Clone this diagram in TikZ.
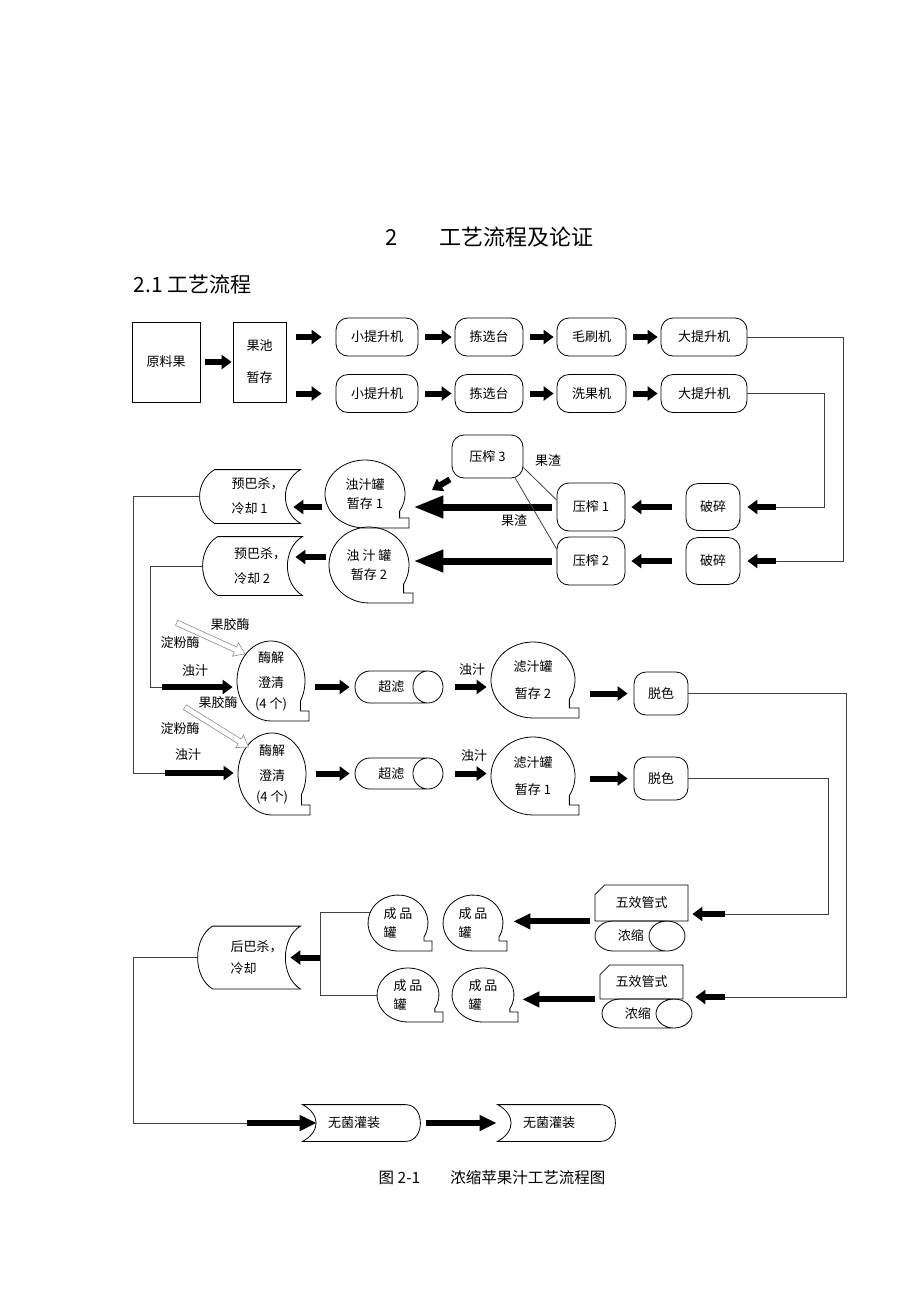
\documentclass[tikz,border=0pt]{standalone}
\usepackage{fontspec}
\setmainfont{Noto Sans CJK SC}
\usetikzlibrary{arrows.meta,shapes.geometric,shapes.misc,shapes.arrows,calc}

\tikzset{
	unit/.style={draw, rounded corners=12pt, minimum height=38pt, inner sep=0pt},
	box/.style={draw, minimum width=#1, minimum height=80pt, inner sep=0pt, align=center},
	tank/.style={ellipse, inner sep=0pt, align=center},
	curved/.style={inner sep=0pt, align=center},
	filter/.style={cylinder, draw, inner sep=0pt, aspect=2.5, anchor=shape center},
	evap/.style={chamfered rectangle, chamfered rectangle corners=north west, chamfered rectangle xsep=7pt, draw, inner sep=0pt},
	enzyme/.style={single arrow, draw=black!45, fill=white, line width=0.6pt, minimum height=75pt, single arrow head extend=4.5pt, single arrow tip angle=70, inner xsep=0pt, inner ysep=2.5pt},
	feed/.style={line width=0.8pt, draw=black!75},
	farrow/.style={line width=6pt, -{Triangle[length=10pt,width=14pt]}},
	midarrow/.style={line width=6pt, -{Triangle[length=17pt,width=15pt]}},
	bigarrow/.style={line width=7pt, -{Triangle[length=30pt,width=21pt]}}
}

\newcommand{\tankline}[3]{\draw ($(#1.center)+(-30:#2 and #3)$) arc[start angle=-30, end angle=270, x radius=#2, y radius=#3] -- ++({#2+4},0) -- ++(0,10) -- ($(#1.center)+({0.866*#2},{10-#3})$) -- cycle;}
\newcommand{\storedline}[1]{\draw (#1.north west) -- (#1.north east) .. controls +(-20,-12) and +(-20,12) .. (#1.south east) -- (#1.south west) .. controls +(-20,12) and +(-20,-12) .. (#1.north west) -- cycle;}
\newcommand{\driveline}[1]{\draw (#1.north west) -- (#1.north east) .. controls +(20,0) and +(20,0) .. (#1.south east) -- (#1.south west) .. controls +(18,10) and +(18,-10) .. (#1.north west) -- cycle;}

\begin{document}
\begin{tikzpicture}[x=1pt, y=1pt, line width=0.8pt, font=\fontsize{13}{19}\selectfont]
	\useasboundingbox (0,0) rectangle (920,-1302);

	\node [anchor=west, font=\fontsize{22}{26}\selectfont] (title) at (382,-237) {2\hspace{42pt}工艺流程及论证};
	\node [anchor=west, font=\fontsize{21}{26}\selectfont] (subtitle) at (130,-284) {2.1 工艺流程};

	% washing lines
	\node [box=68pt] (raw) at (166,-362) {原料果};
	\node [box=53pt] (pool) at (259.5,-362) {果池\\[13pt]暂存};
	\node [unit, minimum width=82pt] (lift1) at (377,-337) {小提升机};
	\node [unit, minimum width=68pt] (pick1) at (489,-337) {拣选台};
	\node [unit, minimum width=69pt] (brush) at (591.5,-337) {毛刷机};
	\node [unit, minimum width=86pt] (big1) at (704,-337) {大提升机};
	\node [unit, minimum width=82pt] (lift2) at (377,-393.5) {小提升机};
	\node [unit, minimum width=68pt] (pick2) at (489,-393.5) {拣选台};
	\node [unit, minimum width=69pt] (wash) at (591.5,-393.5) {洗果机};
	\node [unit, minimum width=86pt] (big2) at (704,-393.5) {大提升机};

	\draw [farrow, shorten <=5pt, shorten >=1pt] (raw) -- (pool);
	\draw [farrow, shorten <=10pt, shorten >=14pt] (pool.east |- lift1.west) -- (lift1.west);
	\draw [farrow, shorten <=10pt, shorten >=14pt] (pool.east |- lift2.west) -- (lift2.west);
	\foreach \a/\b in {lift1/pick1, pick1/brush, brush/big1, lift2/pick2, pick2/wash, wash/big2}
		\draw [farrow, shorten <=7pt, shorten >=3pt] (\a) -- (\b);

	% crushing and pressing
	\node [unit, minimum width=54pt, minimum height=47pt] (crush1) at (713,-507) {破碎};
	\node [unit, minimum width=54pt, minimum height=47pt] (crush2) at (713,-561) {破碎};
	\node [unit, minimum width=68pt, minimum height=48pt] (press1) at (591,-507) {压榨 1};
	\node [unit, minimum width=68pt, minimum height=48pt] (press2) at (591,-561) {压榨 2};
	\node [unit, minimum width=71pt, minimum height=43pt] (press3) at (487.5,-456.5) {压榨 3};
	\node (slag1) at (548,-461) {果渣};
	\node (slag2) at (514,-521) {果渣};
	\node [tank, minimum width=80pt, minimum height=68pt] (tank1) at (365,-494) {浊汁罐\\暂存 1};
	\tankline{tank1}{40}{34}
	\node [tank, minimum width=80pt, minimum height=76pt] (tank2) at (369,-565) {浊 汁 罐\\暂存 2};
	\tankline{tank2}{40}{38}
	\node [curved, align=left, minimum width=85pt, minimum height=53pt] (pre1) at (257.5,-496.5) {预巴杀，\\[6pt]冷却 1};
	\storedline{pre1}
	\node [curved, align=left, minimum width=84pt, minimum height=58pt] (pre2) at (260,-566) {预巴杀，\\[6pt]冷却 2};
	\storedline{pre2}

	\coordinate (r1) at (843,-561);
	\coordinate (r2) at (824,-507);
	\coordinate (p3tip) at (432,-490);
	\draw [feed] (big1.east) -| (r1) -- ([xshift=35pt]crush2.east);
	\draw [feed] (big2.east) -| (r2) -- ([xshift=35pt]crush1.east);
	\draw [farrow, shorten >=7pt] ([xshift=36pt]crush1.east) -- (crush1.east);
	\draw [farrow, shorten >=7pt] ([xshift=36pt]crush2.east) -- (crush2.east);
	\draw [farrow, shorten <=14pt, shorten >=6pt] (crush1) -- (press1);
	\draw [farrow, shorten <=14pt, shorten >=6pt] (crush2) -- (press2);
	\draw [bigarrow, shorten <=5pt, shorten >=8pt] (press1.west) -- (press1.west -| tank1.east);
	\draw [bigarrow, shorten <=5pt, shorten >=4pt] (press2.west) -- (press2.west -| tank2.east);
	\draw [farrow, shorten <=3pt, shorten >=-7pt] (tank1.west |- press1.west) -- (pre1.east |- press1.west);
	\draw [farrow, shorten <=3pt, shorten >=-7pt] ([yshift=4pt]tank2.west |- press2.west) -- ([yshift=4pt]pre2.east |- press2.west);
	\draw [farrow, shorten <=2pt] (press3.south west) -- (p3tip);
	\draw [feed] ([yshift=-11pt]press3.east) -- ([yshift=7pt]press1.west);
	\draw [feed] ([xshift=-8pt]press3.south east) -- ([yshift=12pt]press2.west);

	% enzyme clarification
	\coordinate (l1) at (133,-773);
	\coordinate (l2) at (150,-687);
	\coordinate (juice1) at (162,-687);
	\coordinate (juice2) at (165,-773);
	\draw [feed] ([xshift=-15pt]pre1.west) -| (l1) -- (juice2);
	\draw [feed] ([xshift=-15pt]pre2.west) -| (l2) -- (juice1);

	\node [tank, minimum width=68pt, minimum height=80pt] (enz1) at (271,-681) {酶解\\[6pt]澄清\\[2pt](4 个)};
	\tankline{enz1}{34}{40}
	\node [tank, minimum width=68pt, minimum height=82pt] (enz2) at (272,-774) {酶解\\[6pt]澄清\\[2pt](4 个)};
	\tankline{enz2}{34}{41}
	\node (pectin1) at (230,-625) {果胶酶};
	\node (starch1) at (180,-643) {淀粉酶};
	\node (mash1) at (195,-671) {浊汁};
	\node (pectin2) at (218,-703) {果胶酶};
	\node (starch2) at (180,-729) {淀粉酶};
	\node (mash2) at (188,-755) {浊汁};
	\node [enzyme, rotate=-24.5] (ea1) at (209,-637.5) {};
	\node [enzyme, rotate=-32] (ea2) at (215,-726) {};
	\draw [farrow, shorten >=4pt] (juice1) -- (enz1.west |- juice1);
	\draw [farrow, shorten >=4pt] (juice2) -- (enz2.west |- juice2);

	\node [filter, minimum height=88pt, minimum width=32pt] (uf1) at (399,-687) {超滤};
	\node [filter, minimum height=88pt, minimum width=31pt] (uf2) at (399,-773.5) {超滤};
	\node [tank, minimum width=84pt, minimum height=76pt] (flt2) at (533,-680) {滤汁罐\\[8pt]暂存 2};
	\tankline{flt2}{42}{38}
	\node [tank, minimum width=84pt, minimum height=78pt] (flt1) at (533,-776) {滤汁罐\\[8pt]暂存 1};
	\tankline{flt1}{42}{39}
	\node (mash3) at (472,-670) {浊汁};
	\node (mash4) at (474,-756) {浊汁};
	\node [unit, minimum width=54pt, minimum height=43pt] (dec1) at (661,-693.5) {脱色};
	\node [unit, minimum width=54pt, minimum height=43pt] (dec2) at (661,-778.5) {脱色};

	\draw [farrow, shorten <=10pt, shorten >=5pt] (enz1.east |- uf1.west) -- (uf1.west);
	\draw [farrow, shorten <=10pt, shorten >=5pt] (enz2.east |- uf2.west) -- (uf2.west);
	\draw [farrow, shorten <=12pt, shorten >=4pt] (uf1.east) -- (uf1.east -| flt2.west);
	\draw [farrow, shorten <=12pt, shorten >=4pt] (uf2.east) -- (uf2.east -| flt1.west);
	\draw [farrow, shorten <=15pt, shorten >=6pt] (flt2.east |- dec1.west) -- (dec1.west);
	\draw [farrow, shorten <=15pt, shorten >=6pt] (flt1.east |- dec2.west) -- (dec2.west);

	% concentration and filling
	\node [evap, minimum width=93pt, minimum height=36pt] (eva1) at (641.5,-903) {五效管式};
	\node [filter, aspect=3, minimum height=90pt, minimum width=30pt] (conc1) at (640,-936) {浓缩};
	\node [evap, minimum width=83pt, minimum height=34pt] (eva2) at (641.5,-982) {五效管式};
	\node [filter, aspect=3, minimum height=90pt, minimum width=29pt] (conc2) at (647,-1013.5) {浓缩};

	\coordinate (r3) at (846,-997);
	\coordinate (r4) at (828,-914);
	\coordinate (a3) at (725,-914);
	\coordinate (a4) at (725,-997);
	\draw [feed] (dec1.east) -| (r3) -- (a4);
	\draw [feed] (dec2.east) -| (r4) -- (a3);
	\draw [farrow, shorten >=4pt] (a3) -- (a3 -| eva1.east);
	\draw [farrow, shorten >=3pt] (a4) -- (a4 -| conc2.east);

	\node [tank, align=left, minimum width=60pt, minimum height=56pt] (prod1) at (398,-923) {成 品\\罐};
	\tankline{prod1}{30}{28}
	\node [tank, align=left, minimum width=60pt, minimum height=56pt] (prod2) at (473,-923) {成 品\\罐};
	\tankline{prod2}{30}{28}
	\node [tank, align=left, minimum width=62pt, minimum height=54pt] (prod3) at (408,-995) {成 品\\罐};
	\tankline{prod3}{31}{27}
	\node [tank, align=left, minimum width=62pt, minimum height=54pt] (prod4) at (483,-995) {成 品\\罐};
	\tankline{prod4}{31}{27}
	\draw [midarrow, shorten <=5pt, shorten >=10pt] (eva1.south west) -- (eva1.south west -| prod2.east);
	\draw [midarrow, shorten <=5pt, shorten >=8pt] (eva2.south west) -- (eva2.south west -| prod4.east);

	\node [curved, align=left, minimum width=87pt, minimum height=62pt] (post) at (256.5,-957.5) {后巴杀，\\[3pt]冷却};
	\storedline{post}
	\coordinate (b1) at (320,-913);
	\draw [feed] (prod1.160) -- (prod1.160 -| b1) |- (prod3.west);
	\draw [farrow, shorten >=-10pt] (b1 |- post.east) -- (post.east);

	\coordinate (l3) at (133,-1123);
	\coordinate (fill0) at (247,-1123);
	\node [curved, minimum width=102pt, minimum height=36pt] (fill1) at (354,-1123) {无菌灌装};
	\driveline{fill1}
	\node [curved, minimum width=102pt, minimum height=36pt] (fill2) at (549,-1123) {无菌灌装};
	\driveline{fill2}
	\draw [feed] ([xshift=-15pt]post.west) -| (l3) -- (fill0);
	\draw [midarrow, shorten >=-14pt] (fill0) -- (fill1.west);
	\draw [midarrow, shorten <=21pt, shorten >=1pt] (fill1.east) -- (fill2.west);

	\node [anchor=west, font=\fontsize{15.5}{18}\selectfont] (caption) at (375,-1178) {图 2-1\hspace{30pt}浓缩苹果汁工艺流程图};
\end{tikzpicture}
\end{document}
